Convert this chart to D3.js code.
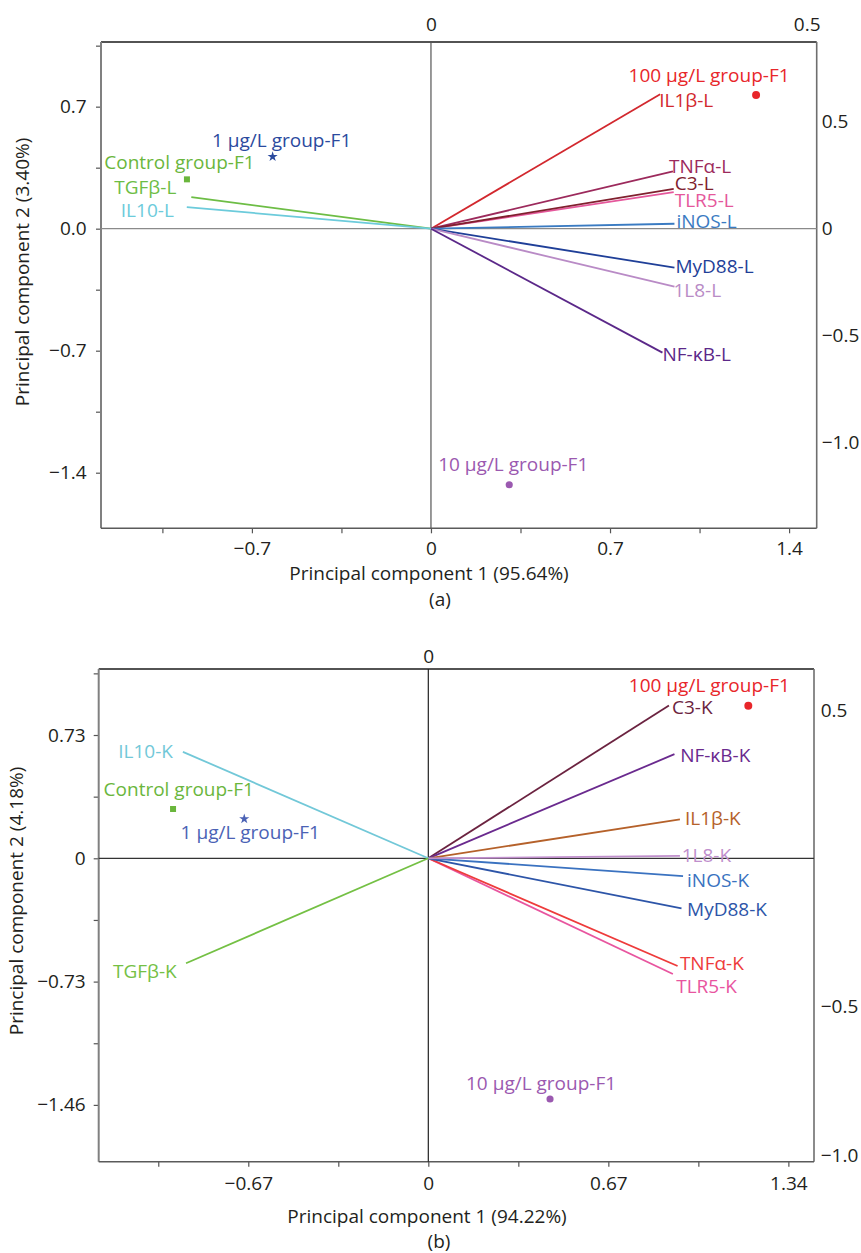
<!DOCTYPE html>
<html>
<head>
<meta charset="utf-8">
<script src="https://cdn.jsdelivr.net/npm/d3@7"></script>
<style>
body{margin:0;background:#fff}
text{font-family:"Open Sans",sans-serif}
</style>
</head>
<body>
<svg id="chart" width="861" height="1253"></svg>
<script>
//-------Panel (a) data
var varNamesA = ["TLR5-L","IL1β-L","TNFα-L","C3-L","iNOS-L","MyD88-L","1L8-L","NF-κB-L","TGFβ-L","IL10-L"];
var loadXA = [0.323,0.305,0.322,0.323,0.324,0.324,0.324,0.308,-0.319,-0.325];
var loadYA = [0.171,0.628,0.268,0.186,0.023,-0.182,-0.271,-0.579,0.148,0.101];
var varColorsA = ["#e5579b","#d2282e","#9c2a5c","#80202e","#3a7bc2","#1f3f98","#b98bc6","#5b2889","#6dbd45","#6ccbdb"];

var groupNames = ["100 µg/L group-F1","1 µg/L group-F1","Control group-F1","10 µg/L group-F1"];
var groupSymbols = ["circle","star","square","dot"];
var scoreXA = [1.271,-0.619,-0.954,0.306];
var scoreYA = [0.767,0.413,0.283,-1.469];
var groupColorsA = ["#e8262a","#2b4a9e","#6ab63c","#9b59b0"];

var bottomTicksA = [-1.05,-0.7,-0.35,0,0.35,0.7,1.05,1.4];
var bottomLabelsA = ["","−0.7","","0","","0.7","","1.4"];
var leftTicksA = [-1.4,-1.05,-0.7,-0.35,0,0.35,0.7,1.05];
var leftLabelsA = ["−1.4","","−0.7","","0.0","","0.7",""];
var topTicksA = [0,0.5];
var topLabelsA = ["0","0.5"];
var rightTicksA = [0.5,0,-0.5,-1.0];
var rightLabelsA = ["0.5","0","−0.5","−1.0"];

//-------Panel (b) data
var varNamesB = ["TLR5-K","TNFα-K","C3-K","NF-κB-K","IL1β-K","iNOS-K","MyD88-K","1L8-K","IL10-K","TGFβ-K"];
var loadXB = [0.312,0.318,0.307,0.314,0.321,0.325,0.323,0.321,-0.313,-0.309];
var loadYB = [-0.390,-0.363,0.515,0.351,0.131,-0.060,-0.169,0.008,0.359,-0.354];
var varColorsB = ["#e8559f","#ee3b3b","#6b2340","#6a2a8e","#b5612a","#3a72c0","#2d55a8","#c08fcc","#72c8d8","#74c044"];

var scoreXB = [1.191,-0.685,-0.950,0.453];
var scoreYB = [0.903,0.233,0.292,-1.425];
var groupColorsB = ["#e8262a","#4b62b5","#6ab63c","#9b59b0"];

var bottomTicksB = [-1.005,-0.67,-0.335,0,0.335,0.67,1.005,1.34];
var bottomLabelsB = ["","−0.67","","0","","0.67","","1.34"];
var leftTicksB = [-1.46,-1.095,-0.73,-0.365,0,0.365,0.73,1.095];
var leftLabelsB = ["−1.46","","−0.73","","0","","0.73",""];
var topTicksB = [0];
var topLabelsB = ["0"];
var rightTicksB = [0.5,-0.5,-1.0];
var rightLabelsB = ["0.5","−0.5","−1.0"];

//-------Layout: label nudges (dx, dy in px, anchor) for vectors and groups
var varNudgeA = [[1,8,"start"],[-1,6,"start"],[-4,-5.5,"start"],[1,-6,"start"],[2,-3,"start"],[1,-1,"start"],[-1,3,"start"],[0,1.5,"start"],[-15,-10,"end"],[-13,3,"end"]];
var groupNudgeA = [[-47,-20],[9,-16.5],[-7.5,-17.5],[4,-20.5]];
var varNudgeB = [[3.3,12,"start"],[2.3,-3.3,"start"],[3,1.6,"start"],[5.7,0.7,"start"],[5,-1,"start"],[4,4,"start"],[5.6,1,"start"],[1.7,-1,"start"],[-10,-1,"end"],[-9.3,7.7,"end"]];
var groupNudgeB = [[-39,-20.5],[6,13.3],[5.7,-19.7],[-9,-15.7]];

var svg = d3.select("#chart");

drawPanel({
	box: [101, 42, 816.7, 528.3],
	xDom: [-1.29, 1.508], yDom: [-1.719, 1.071],
	xTopDom: [-0.4392, 0.5133], yRightDom: [-1.4, 0.8724],
	names: varNamesA, lx: loadXA, ly: loadYA, colors: varColorsA, nudge: varNudgeA,
	sx: scoreXA, sy: scoreYA, gcolors: groupColorsA, gnudge: groupNudgeA,
	bt: bottomTicksA, bl: bottomLabelsA, lt: leftTicksA, ll: leftLabelsA,
	tt: topTicksA, tl: topLabelsA, rt: rightTicksA, rl: rightLabelsA,
	pad: {bottom: 8.5, left: 9.3, right: 5, top: 11.5},
	zeroH: "#8a8a8a", zeroV: "#555",
	xTitle: "Principal component 1 (95.64%)", xTitlePos: [429, 580],
	yTitle: "Principal component 2 (3.40%)", yTitlePos: [29, 272],
	tag: "(a)", tagPos: [440, 606]
});

drawPanel({
	box: [98.7, 669, 814, 1161.7],
	xDom: [-1.2267, 1.4354], yDom: [-1.7963, 1.1208],
	xTopDom: [-0.4204, 0.4920], yRightDom: [-1.0229, 0.6382],
	names: varNamesB, lx: loadXB, ly: loadYB, colors: varColorsB, nudge: varNudgeB,
	sx: scoreXB, sy: scoreYB, gcolors: groupColorsB, gnudge: groupNudgeB,
	bt: bottomTicksB, bl: bottomLabelsB, lt: leftTicksB, ll: leftLabelsB,
	tt: topTicksB, tl: topLabelsB, rt: rightTicksB, rl: rightLabelsB,
	pad: {bottom: 10, left: 8, right: 6.7, top: 6.2},
	zeroH: "#333", zeroV: "#222",
	xTitle: "Principal component 1 (94.22%)", xTitlePos: [427, 1223],
	yTitle: "Principal component 2 (4.18%)", yTitlePos: [23, 901],
	tag: "(b)", tagPos: [439, 1248]
});

function drawPanel(c){
	var x0 = c.box[0], y0 = c.box[1], x1 = c.box[2], y1 = c.box[3];
	var x = d3.scaleLinear().domain(c.xDom).range([x0, x1]);
	var y = d3.scaleLinear().domain(c.yDom).range([y1, y0]);
	var xTop = d3.scaleLinear().domain(c.xTopDom).range([x0, x1]);
	var yRight = d3.scaleLinear().domain(c.yRightDom).range([y1, y0]);
	var fs = "19px";

	var g = svg.append("g");

	//axes
	var ax = g.append("g").attr("transform", "translate(0," + y1 + ")")
		.call(d3.axisBottom(x).tickValues(c.bt).tickSize(5).tickPadding(c.pad.bottom)
			.tickFormat(function(d, i){ return c.bl[i]; }));
	var ay = g.append("g").attr("transform", "translate(" + x0 + ",0)")
		.call(d3.axisLeft(y).tickValues(c.lt).tickSize(5).tickPadding(c.pad.left)
			.tickFormat(function(d, i){ return c.ll[i]; }));
	var at = g.append("g").attr("transform", "translate(0," + y0 + ")")
		.call(d3.axisTop(xTop).tickValues(c.tt).tickSize(0).tickPadding(c.pad.top)
			.tickFormat(function(d, i){ return c.tl[i]; }));
	var ar = g.append("g").attr("transform", "translate(" + x1 + ",0)")
		.call(d3.axisRight(yRight).tickValues(c.rt).tickSize(0).tickPadding(c.pad.right)
			.tickFormat(function(d, i){ return c.rl[i]; }));
	[ax, ay, at, ar].forEach(function(a){
		a.select(".domain").remove();
		a.selectAll("line").attr("stroke", "#555").attr("stroke-width", 1.2);
		a.selectAll("text").attr("font-size", fs).attr("fill", "#231f20")
			.attr("font-family", "'Open Sans',sans-serif");
	});

	//frame
	g.append("line").attr("x1", x0).attr("x2", x1).attr("y1", y0).attr("y2", y0)
		.attr("stroke", "#1a1a1a").attr("stroke-width", 1.6);
	g.append("line").attr("x1", x0).attr("x2", x0).attr("y1", y0).attr("y2", y1)
		.attr("stroke", "#808080").attr("stroke-width", 2);
	g.append("line").attr("x1", x1).attr("x2", x1).attr("y1", y0).attr("y2", y1)
		.attr("stroke", "#6e6e6e").attr("stroke-width", 1.6);
	g.append("line").attr("x1", x0).attr("x2", x1).attr("y1", y1).attr("y2", y1)
		.attr("stroke", "#5a5a5a").attr("stroke-width", 1.6);

	//zero lines
	g.append("line").attr("x1", x0).attr("x2", x1).attr("y1", y(0)).attr("y2", y(0))
		.attr("stroke", c.zeroH).attr("stroke-width", 1.3);
	g.append("line").attr("x1", x(0)).attr("x2", x(0)).attr("y1", y0).attr("y2", y1)
		.attr("stroke", c.zeroV).attr("stroke-width", 1.2);

	//loading vectors
	var vars = c.names.map(function(n, i){ return {name: n, lx: c.lx[i], ly: c.ly[i], color: c.colors[i], nudge: c.nudge[i]}; });
	g.selectAll(".vec").data(vars).enter().append("line")
		.attr("class", "vec")
		.attr("x1", xTop(0)).attr("y1", yRight(0))
		.attr("x2", function(d){ return xTop(d.lx); })
		.attr("y2", function(d){ return yRight(d.ly); })
		.attr("stroke", function(d){ return d.color; })
		.attr("stroke-width", 1.8);
	g.selectAll(".vlab").data(vars).enter().append("text")
		.attr("class", "vlab")
		.attr("x", function(d){ return xTop(d.lx) + d.nudge[0]; })
		.attr("y", function(d){ return yRight(d.ly) + d.nudge[1]; })
		.attr("dy", "0.36em")
		.attr("text-anchor", function(d){ return d.nudge[2]; })
		.attr("font-size", fs)
		.attr("fill", function(d){ return d.color; })
		.text(function(d){ return d.name; });

	//group scores
	var groups = groupNames.map(function(n, i){ return {name: n, sx: c.sx[i], sy: c.sy[i], color: c.gcolors[i], sym: groupSymbols[i], nudge: c.gnudge[i]}; });
	var symMap = {circle: [d3.symbolCircle, 50], star: [d3.symbolStar, 32], square: [d3.symbolSquare, 36], dot: [d3.symbolCircle, 40]};
	g.selectAll(".pt").data(groups).enter().append("path")
		.attr("class", "pt")
		.attr("transform", function(d){ return "translate(" + x(d.sx) + "," + y(d.sy) + ")"; })
		.attr("d", function(d){ return d3.symbol().type(symMap[d.sym][0]).size(symMap[d.sym][1])(); })
		.attr("fill", function(d){ return d.color; });
	g.selectAll(".plab").data(groups).enter().append("text")
		.attr("class", "plab")
		.attr("x", function(d){ return x(d.sx) + d.nudge[0]; })
		.attr("y", function(d){ return y(d.sy) + d.nudge[1]; })
		.attr("dy", "0.36em")
		.attr("text-anchor", "middle")
		.attr("font-size", fs)
		.attr("fill", function(d){ return d.color; })
		.text(function(d){ return d.name; });

	//titles
	g.append("text").attr("x", c.xTitlePos[0]).attr("y", c.xTitlePos[1])
		.attr("text-anchor", "middle").attr("font-size", fs).attr("fill", "#231f20")
		.text(c.xTitle);
	g.append("text")
		.attr("transform", "translate(" + c.yTitlePos[0] + "," + c.yTitlePos[1] + ") rotate(-90)")
		.attr("text-anchor", "middle").attr("font-size", fs).attr("fill", "#231f20")
		.text(c.yTitle);
	g.append("text").attr("x", c.tagPos[0]).attr("y", c.tagPos[1])
		.attr("text-anchor", "middle").attr("font-size", fs).attr("fill", "#231f20")
		.text(c.tag);
}
</script>
</body>
</html>
